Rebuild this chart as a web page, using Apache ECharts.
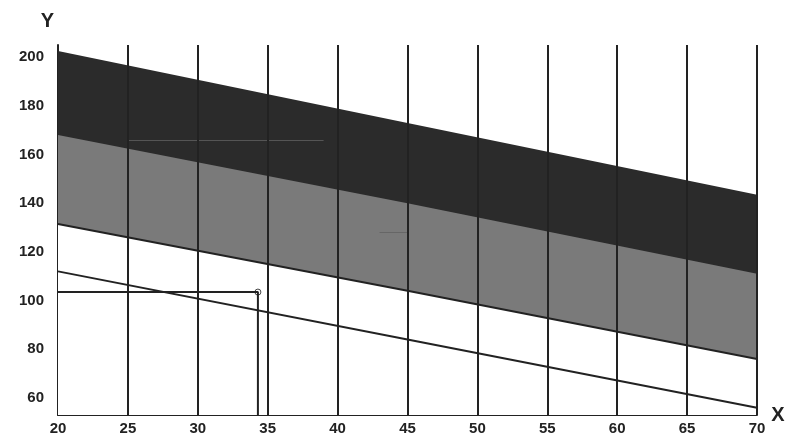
<!DOCTYPE html>
<html lang="en">
<head>
  <meta charset="UTF-8">
  <title>Chart</title>
  <style>
    body { margin: 0; background: #fff; }
    #main { width: 790px; height: 445px; }
  </style>
  <script src="https://cdn.jsdelivr.net/npm/echarts@6/dist/echarts.min.js"></script>
</head>
<body>
  <div id="main"></div>
  <script>
    // boundaries at x = 20, 45, 70
    var xs = [20, 45, 70];
    var topLine = [202.5, 173, 143.5];
    var abLine = [168, 140, 111];
    var bwLine = [131.5, 104, 76];
    var lowLine = [112, 84, 56];
    var xGrid = [25, 30, 35, 40, 45, 50, 55, 60, 65, 70];
    var yTicks = [60, 80, 100, 120, 140, 160, 180, 200];
    var marker = [34.3, 103.5];

    function pts(arr) {
      return xs.map(function (x, i) { return [x, arr[i]]; });
    }

    var chart = echarts.init(document.getElementById('main'));
    var font = 'Liberation Sans, Arial, sans-serif';
    var labelStyle = { color: '#fff', fontSize: 18, fontWeight: 'bold', fontFamily: font };
    chart.setOption({
      animation: false,
      grid: { left: 58, right: 33, top: 45, bottom: 30 },
      xAxis: {
        type: 'value', min: 20, max: 70, interval: 5,
        name: 'X', nameGap: 6,
        nameTextStyle: { fontSize: 20, fontWeight: 'bold', color: '#222', fontFamily: font, verticalAlign: 'middle' },
        axisLine: { lineStyle: { color: '#222', width: 2 } },
        axisTick: { show: false },
        axisLabel: { fontSize: 15, fontWeight: 'bold', color: '#222', fontFamily: font, margin: 6 },
        splitLine: { show: false }
      },
      yAxis: {
        type: 'value', min: 53, max: 205,
        name: 'Y', nameGap: 14,
        nameTextStyle: { fontSize: 20, fontWeight: 'bold', color: '#222', fontFamily: font, align: 'right', padding: [0, 4, 0, 0] },
        axisLine: { show: true, lineStyle: { color: '#222', width: 2 } },
        axisTick: { show: false },
        axisLabel: { customValues: yTicks, fontSize: 15, fontWeight: 'bold', color: '#222', fontFamily: font, margin: 14 },
        splitLine: { show: false }
      },
      series: [
        {
          type: 'line', data: pts(topLine), symbol: 'none', z: 1,
          lineStyle: { width: 0 }, areaStyle: { color: '#2b2b2b', opacity: 1, origin: 'start' },
          markLine: {
            silent: true, symbol: 'none', label: { show: false },
            lineStyle: { color: '#555', width: 1, type: 'solid' },
            data: [[{ coord: [25, 166] }, { coord: [39, 166] }]]
          },
          markPoint: { symbol: 'none', label: Object.assign({ show: true, formatter: 'A' }, labelStyle), data: [{ coord: [27.3, 173] }] }
        },
        {
          type: 'line', data: pts(abLine), symbol: 'none', z: 2,
          lineStyle: { width: 0 }, areaStyle: { color: '#7a7a7a', opacity: 1, origin: 'start' },
          markLine: {
            silent: true, symbol: 'none', label: { show: false },
            lineStyle: { color: '#666', width: 1, type: 'solid' },
            data: [[{ coord: [43, 128] }, { coord: [45, 128] }]]
          },
          markPoint: { symbol: 'none', label: Object.assign({ show: true, formatter: 'B' }, labelStyle), data: [{ coord: [42.1, 129] }] }
        },
        {
          type: 'line', data: pts(bwLine), symbol: 'none', z: 3,
          lineStyle: { color: '#222', width: 2 }, areaStyle: { color: '#fff', opacity: 1, origin: 'start' }
        },
        {
          type: 'line', data: pts(lowLine), symbol: 'none', z: 5,
          lineStyle: { color: '#222', width: 2 },
          markLine: {
            silent: true, symbol: 'none', label: { show: false },
            lineStyle: { color: '#222', width: 2, type: 'solid' },
            data: xGrid.map(function (x) { return { xAxis: x }; })
          }
        },
        {
          type: 'line', data: [[20, marker[1]], [marker[0], marker[1]], [marker[0], 53]],
          symbol: 'none', lineStyle: { color: '#222', width: 2 }, z: 6,
          markPoint: {
            symbol: 'circle', symbolSize: 6,
            itemStyle: { color: '#fff', borderColor: '#444', borderWidth: 1 },
            label: { show: false },
            data: [{ coord: marker }]
          }
        }
      ]
    });
  </script>
</body>
</html>
